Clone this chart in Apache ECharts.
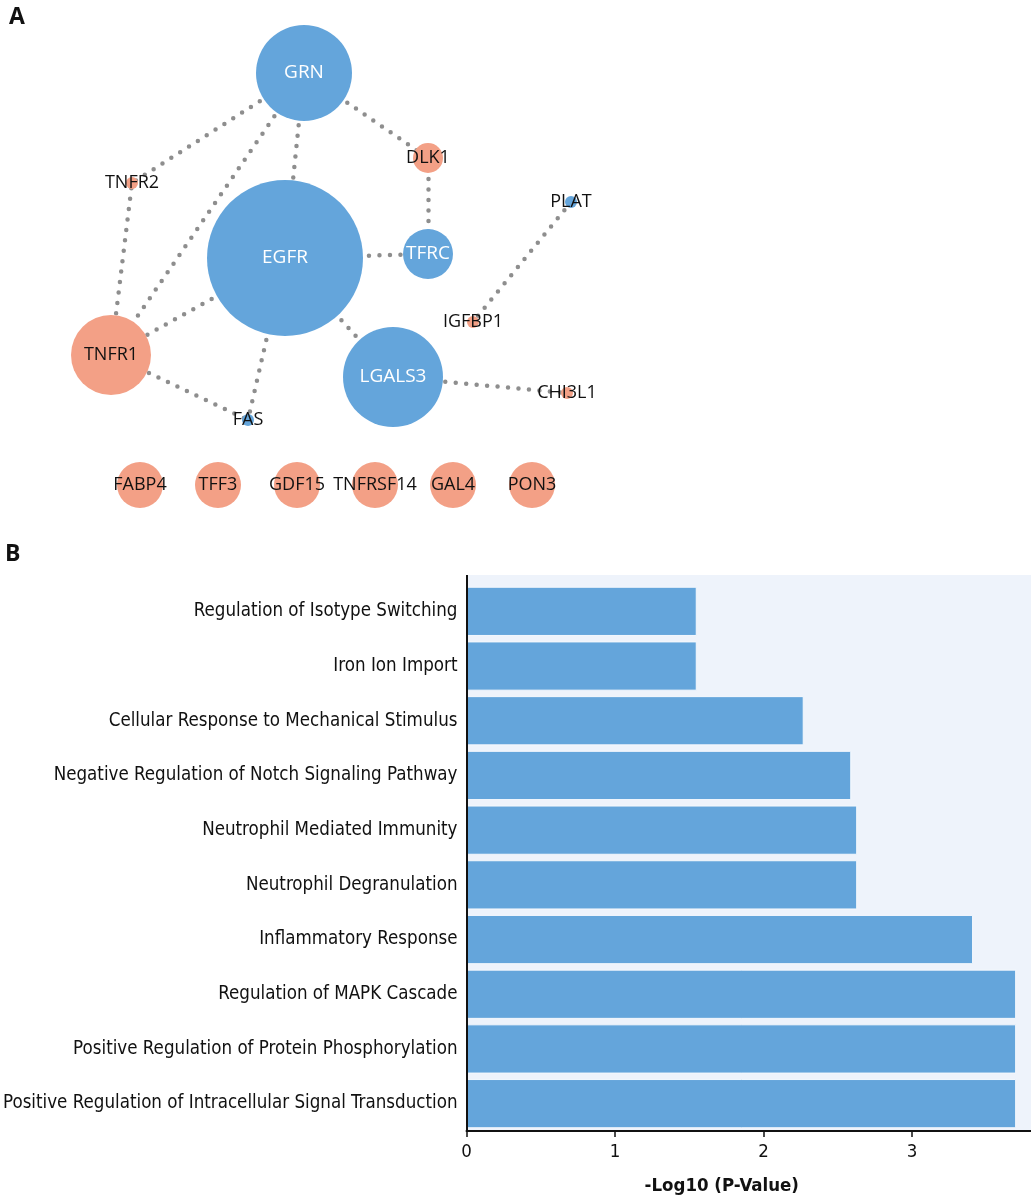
<!DOCTYPE html>
<html>
<head>
<meta charset="utf-8">
<script src="https://cdn.jsdelivr.net/npm/echarts@6/dist/echarts.min.js"></script>
<style>
html,body{margin:0;padding:0;background:#fff;}
#chart{width:1031px;height:1200px;}
</style>
</head>
<body>
<div id="chart"></div>
<script>
// ---- Panel A: network ----
const nodeNames = ['GRN','EGFR','TFRC','DLK1','TNFR2','PLAT','IGFBP1','TNFR1','LGALS3','CHI3L1','FAS','FABP4','TFF3','GDF15','TNFRSF14','GAL4','PON3'];
const nodeX     = [304, 285, 428, 428, 132, 571, 473, 111, 393, 567, 248, 140, 218, 297, 375, 453, 532];
const nodeY     = [73, 258, 254, 158, 183, 202, 322, 355, 377, 393, 420, 485, 485, 485, 485, 485, 485];
const nodeSize  = [96, 156, 50, 30, 12, 12, 12, 80, 100, 12, 12, 46, 46, 46, 46, 46, 46];
const nodeGroup = ['blue','blue','blue','orange','orange','blue','orange','orange','blue','orange','blue','orange','orange','orange','orange','orange','orange'];
const linkSource = ['GRN','GRN','GRN','GRN','DLK1','EGFR','EGFR','EGFR','EGFR','TNFR1','TNFR1','LGALS3','PLAT'];
const linkTarget = ['TNFR2','TNFR1','EGFR','DLK1','TFRC','TFRC','TNFR1','LGALS3','FAS','TNFR2','FAS','CHI3L1','IGFBP1'];

// ---- Panel B: enrichment bars ----
const categories = [
  'Regulation of Isotype Switching',
  'Iron Ion Import',
  'Cellular Response to Mechanical Stimulus',
  'Negative Regulation of Notch Signaling Pathway',
  'Neutrophil Mediated Immunity',
  'Neutrophil Degranulation',
  'Inflammatory Response',
  'Regulation of MAPK Cascade',
  'Positive Regulation of Protein Phosphorylation',
  'Positive Regulation of Intracellular Signal Transduction'
];
const values = [1.55, 1.55, 2.27, 2.59, 2.63, 2.63, 3.41, 3.70, 3.70, 3.70];
const xTicks = [0, 1, 2, 3];

const BLUE = '#64a5db';
const ORANGE = '#f3a086';
const condensed = "'Liberation Sans Narrow','DejaVu Sans Condensed',sans-serif";

const nodes = nodeNames.map((n, i) => {
  const big = nodeGroup[i] === 'blue' && nodeSize[i] > 20;
  return {
    name: n,
    value: [nodeX[i], nodeY[i]],
    symbolSize: nodeSize[i],
    itemStyle: { color: nodeGroup[i] === 'blue' ? BLUE : ORANGE },
    label: { color: big ? '#ffffff' : '#111111', fontSize: big ? 19 : 18 }
  };
});
const links = linkSource.map((s, i) => ({ source: s, target: linkTarget[i] }));

const chart = echarts.init(document.getElementById('chart'), null, { renderer: 'canvas' });
chart.setOption({
  backgroundColor: '#ffffff',
  animation: false,
  graphic: [
    { type: 'text', left: 9, top: 6, style: { text: 'A', font: 'bold 23px "Open Sans", sans-serif', fill: '#111' } },
    { type: 'text', left: 5, top: 543, style: { text: 'B', font: 'bold 23px "Open Sans", sans-serif', fill: '#111' } },
    { type: 'rect', z: -10, shape: { x: 466, y: 575, width: 565, height: 556 }, style: { fill: '#eef3fb' } },
    { type: 'line', z: 10, shape: { x1: 467, y1: 575, x2: 467, y2: 587 }, style: { stroke: '#111', lineWidth: 2 } }
  ],
  grid: [
    { left: 466, right: 0, top: 584, bottom: 69, containLabel: false },
    { left: 0, top: 0, width: 1031, height: 530, containLabel: false }
  ],
  xAxis: [
    {
      gridIndex: 0, type: 'value', min: 0, max: 3.8, interval: 1, z: 6,
      name: '-Log10 (P-Value)', nameLocation: 'middle', nameGap: 46,
      nameTextStyle: { fontFamily: condensed, fontSize: 18.5, fontWeight: 'bold', color: '#111', padding: [0, 54, 0, 0] },
      axisLine: { show: true, lineStyle: { color: '#111', width: 2 } },
      axisTick: { show: true, length: 6, customValues: xTicks, lineStyle: { color: '#111', width: 1.5 } },
      axisLabel: { margin: 12, fontFamily: condensed, fontSize: 18.5, color: '#111', customValues: xTicks },
      splitLine: { show: false }
    },
    { gridIndex: 1, type: 'value', min: 0, max: 1031, show: false }
  ],
  yAxis: [
    {
      gridIndex: 0, type: 'category', data: categories, inverse: true, z: 6,
      axisLine: { show: true, lineStyle: { color: '#111', width: 2 } },
      axisTick: { show: false },
      axisLabel: { margin: 9, fontFamily: condensed, fontSize: 18.6, color: '#111' }
    },
    { gridIndex: 1, type: 'value', min: 0, max: 530, inverse: true, show: false }
  ],
  series: [
    {
      type: 'bar', xAxisIndex: 0, yAxisIndex: 0, data: values,
      barCategoryGap: '10%',
      itemStyle: { color: BLUE, borderColor: '#f4f8fd', borderWidth: 1 },
      z: 2
    },
    {
      type: 'graph', coordinateSystem: 'cartesian2d', xAxisIndex: 1, yAxisIndex: 1,
      symbol: 'circle',
      data: nodes,
      links: links,
      label: { show: true, position: 'inside', fontFamily: "'Open Sans', 'Noto Sans', sans-serif", fontSize: 18 },
      lineStyle: { color: '#8e8e8e', width: 4.5, type: [0, 10.5], cap: 'round', opacity: 1, curveness: 0 },
      emphasis: { disabled: true },
      z: 3
    }
  ]
});
</script>
</body>
</html>
